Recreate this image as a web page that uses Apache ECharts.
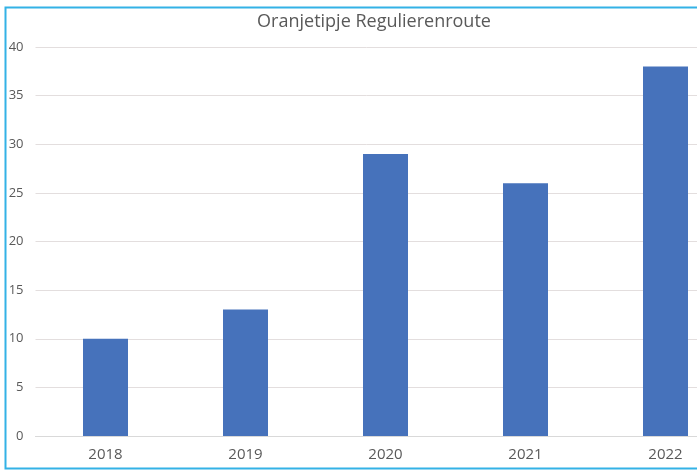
<!DOCTYPE html>
<html>
<head>
<meta charset="utf-8">
<script src="https://cdn.jsdelivr.net/npm/echarts@6/dist/echarts.min.js"></script>
<style>
  html, body { margin: 0; padding: 0; background: #fff; }
  #chart { width: 697px; height: 473px; }
</style>
</head>
<body>
<div id="chart"></div>
<script>
const years = ['2018', '2019', '2020', '2021', '2022'];
const counts = [10, 13, 29, 26, 38];
const chartTitle = 'Oranjetipje Regulierenroute';

const chart = echarts.init(document.getElementById('chart'));

chart.setOption({
  animation: false,
  textStyle: { fontFamily: 'Open Sans, sans-serif' },
  title: {
    text: chartTitle,
    left: 369,
    top: 8,
    textAlign: 'center',
    textStyle: { fontSize: 18, fontWeight: 'normal', color: '#595959' }
  },
  // frame runs off the right edge, like the cropped screenshot
  graphic: [{
    type: 'rect',
    shape: { x: 5.5, y: 7.5, width: 720, height: 461 },
    style: { fill: 'none', stroke: '#33b2e6', lineWidth: 2 },
    silent: true
  }],
  grid: { left: 35.5, top: 47, width: 700, bottom: 37, outerBoundsMode: 'none' },
  xAxis: {
    type: 'category',
    data: years,
    axisTick: { show: false },
    axisLine: { lineStyle: { color: '#d9d9d9' } },
    axisLabel: { color: '#595959', fontSize: 15, margin: 11 }
  },
  yAxis: {
    type: 'value',
    min: 0,
    max: 40,
    interval: 5,
    axisLabel: { color: '#595959', fontSize: 13, margin: 12 },
    splitLine: { lineStyle: { color: '#e3dede' } }
  },
  series: [{
    type: 'bar',
    data: counts,
    barWidth: 45,
    itemStyle: { color: '#4672bb' }
  }]
});
</script>
</body>
</html>
